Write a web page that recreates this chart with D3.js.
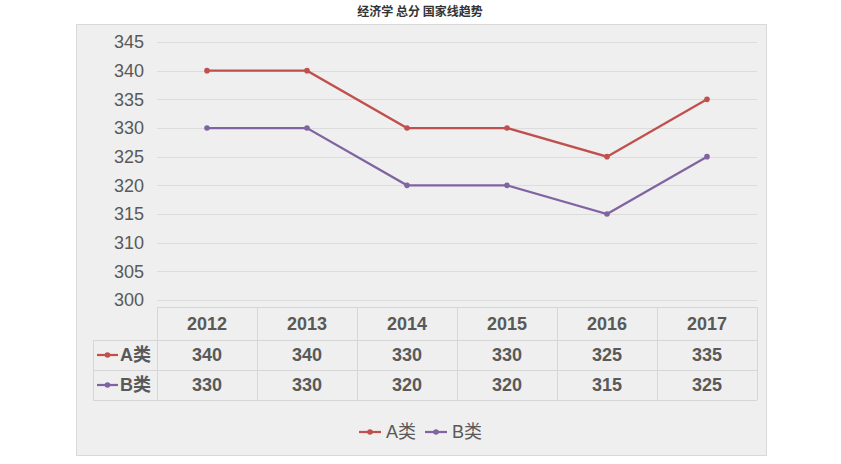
<!DOCTYPE html>
<html>
<head>
<meta charset="utf-8">
<script src="https://cdn.jsdelivr.net/npm/d3@7"></script>
<style>
  body { margin: 0; background: #fff; }
  svg text { font-family: "Liberation Sans", "Noto Sans CJK SC", sans-serif; fill: #595959; }
</style>
</head>
<body>
<svg id="chart" width="841" height="464"></svg>
<script>
var years = ["2012", "2013", "2014", "2015", "2016", "2017"];
var seriesA = [340, 340, 330, 330, 325, 335];
var seriesB = [330, 330, 320, 320, 315, 325];
var yTicks = [300, 305, 310, 315, 320, 325, 330, 335, 340, 345];
var series = [
  {name: "A类", values: seriesA, color: "#c0504d"},
  {name: "B类", values: seriesB, color: "#8064a2"}
];

var svg = d3.select("#chart");

// chart frame
svg.append("rect").attr("x", 76.5).attr("y", 24.5).attr("width", 690).attr("height", 431)
  .attr("fill", "#efefef").attr("stroke", "#d9d9d9");

svg.append("text").attr("x", 420).attr("y", 16).attr("text-anchor", "middle")
  .style("font-size", "12px").style("font-weight", "bold").style("fill", "#333")
  .style("font-family", "'Noto Sans CJK SC', sans-serif")
  .text("经济学 总分 国家线趋势");

var x = d3.scaleBand().domain(years).range([157, 757]);
var y = d3.scaleLinear().domain([300, 345]).range([300, 42]);

// gridlines
svg.append("g").selectAll("line").data(yTicks).join("line")
  .attr("x1", 157).attr("x2", 757)
  .attr("y1", function(d) { return Math.round(y(d)) + 0.5; })
  .attr("y2", function(d) { return Math.round(y(d)) + 0.5; })
  .attr("stroke", "#dcdcdc");

// y axis labels
var yAxis = svg.append("g").attr("transform", "translate(148,0)")
  .call(d3.axisLeft(y).tickValues(yTicks).tickSize(0).tickPadding(4));
yAxis.select(".domain").remove();
yAxis.selectAll("text").style("font-size", "18px").style("fill", "#595959")
  .style("font-family", "'Liberation Sans', sans-serif");

// lines
var line = d3.line()
  .x(function(d, i) { return x(years[i]) + x.bandwidth() / 2; })
  .y(function(d) { return y(d); });

series.forEach(function(s) {
  svg.append("path").datum(s.values).attr("d", line)
    .attr("fill", "none").attr("stroke", s.color).attr("stroke-width", 2.25);
  svg.append("g").selectAll("circle").data(s.values).join("circle")
    .attr("cx", function(d, i) { return x(years[i]) + x.bandwidth() / 2; })
    .attr("cy", function(d) { return y(d); })
    .attr("r", 2.8).attr("fill", s.color);
});

// data table
var tableTop = 307, rowH = [33, 30, 30];
var rowY = [tableTop, tableTop + rowH[0], tableTop + rowH[0] + rowH[1], tableTop + rowH[0] + rowH[1] + rowH[2]];
var tbl = svg.append("g").attr("stroke", "#d6d6d6").attr("fill", "none");
// horizontal lines
tbl.append("line").attr("x1", 157).attr("x2", 757).attr("y1", rowY[0] + 0.5).attr("y2", rowY[0] + 0.5);
[1, 2, 3].forEach(function(r) {
  tbl.append("line").attr("x1", 93).attr("x2", 757).attr("y1", rowY[r] + 0.5).attr("y2", rowY[r] + 0.5);
});
// vertical lines
tbl.append("line").attr("x1", 93.5).attr("x2", 93.5).attr("y1", rowY[1]).attr("y2", rowY[3]);
years.concat(["end"]).forEach(function(yr, i) {
  var xx = 157 + i * x.bandwidth();
  tbl.append("line").attr("x1", xx + 0.5).attr("x2", xx + 0.5).attr("y1", rowY[0]).attr("y2", rowY[3]);
});

svg.append("g").selectAll("text").data(years).join("text")
  .attr("x", function(d) { return x(d) + x.bandwidth() / 2; })
  .attr("y", rowY[0] + rowH[0] / 2 + 6)
  .attr("text-anchor", "middle").style("font-size", "18px").style("font-weight", "bold")
  .text(function(d) { return d; });

series.forEach(function(s, si) {
  var cy = rowY[si + 1] + rowH[si + 1] / 2;
  svg.append("g").selectAll("text").data(s.values).join("text")
    .attr("x", function(d, i) { return x(years[i]) + x.bandwidth() / 2; })
    .attr("y", cy + 6)
    .attr("text-anchor", "middle").style("font-size", "18px").style("font-weight", "bold")
    .text(function(d) { return d; });
  svg.append("line").attr("x1", 97).attr("x2", 118).attr("y1", cy).attr("y2", cy)
    .attr("stroke", s.color).attr("stroke-width", 2.25);
  svg.append("circle").attr("cx", 107.5).attr("cy", cy).attr("r", 2.8).attr("fill", s.color);
  svg.append("text").attr("x", 120).attr("y", cy + 6)
    .style("font-size", "18px").style("font-weight", "bold")
    .text(s.name);
});

// legend
var legend = svg.append("g").selectAll("g").data(series).join("g")
  .attr("transform", function(d, i) { return "translate(" + (359 + i * 66) + ",432)"; });
legend.append("line").attr("x1", 0).attr("x2", 22).attr("stroke", function(d) { return d.color; })
  .attr("stroke-width", 2.25);
legend.append("circle").attr("cx", 11).attr("r", 2.8).attr("fill", function(d) { return d.color; });
legend.append("text").attr("x", 27).attr("y", 6).style("font-size", "18px")
  .text(function(d) { return d.name; });
</script>
</body>
</html>
